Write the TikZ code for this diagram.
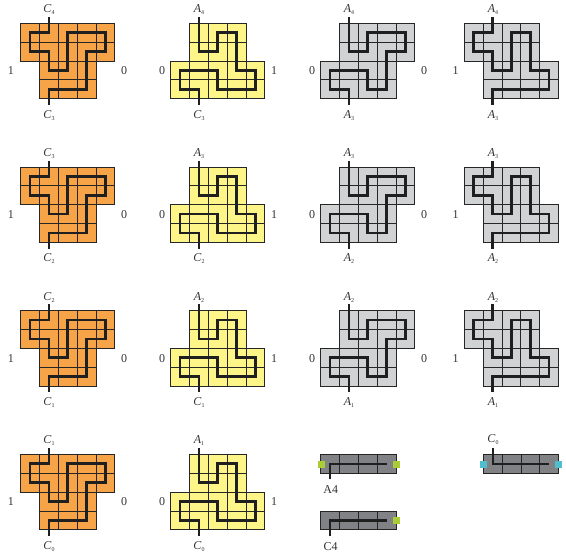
\documentclass[tikz,border=0pt]{standalone}
\usepackage{fontspec}
\setmainfont{Liberation Serif}
\usetikzlibrary{positioning}

\definecolor{tileorange}{RGB}{247,163,72}
\definecolor{tileyellow}{RGB}{253,245,135}
\definecolor{tilegray}{RGB}{208,210,211}
\definecolor{tiledark}{RGB}{128,130,133}
\definecolor{portgreen}{RGB}{170,205,55}
\definecolor{portcyan}{RGB}{80,190,205}

\tikzset{
  tile/.style={draw=black!85, line width=1pt},
  gridline/.style={draw=black!85, line width=0.9pt},
  wire/.style={draw=black!88, line width=2.7pt, line join=miter},
  lab/.style={inner sep=0pt, font=\fontsize{12}{14}\selectfont, text=black!80},
  port/.style={minimum size=7pt, inner sep=0pt},
  cellunit/.style={x=18.85pt, y=-18.85pt},
}

% one block of the T-shaped panels, #1 outline, #2 colour, #3 inner lines, #4 wire
\newcommand{\panelblock}[4]{
  \fill[#2] #1 -- cycle;
  \draw[gridline] #3;
  \draw[tile] #1 -- cycle;
  \draw[wire] #4;
}
\newcommand{\orangeblock}{\panelblock
  {(0,0) -- (5,0) -- (5,2) -- (4,2) -- (4,4) -- (1,4) -- (1,2) -- (0,2)}
  {tileorange}
  {(1,0) -- (1,4) (2,0) -- (2,4) (3,0) -- (3,4) (4,0) -- (4,2) (0,1) -- (5,1) (1,2) -- (4,2) (1,3) -- (4,3)}
  {(1.5,-.33) |- (.5,.5) |- (1.5,1.5) |- (2.5,2.5) |- (4.5,.5) |- (3.5,1.5) |- (1.5,3.5) -- (1.5,4.33)}}
\newcommand{\yellowblock}{\panelblock
  {(1,0) -- (4,0) -- (4,2) -- (5,2) -- (5,4) -- (0,4) -- (0,2) -- (1,2)}
  {tileyellow}
  {(1,0) -- (1,4) (2,0) -- (2,4) (3,0) -- (3,4) (4,2) -- (4,4) (1,1) -- (4,1) (1,2) -- (4,2) (0,3) -- (5,3)}
  {(1.5,-.33) |- (2.5,1.5) |- (3.5,.5) |- (4.5,2.5) |- (2.5,3.5) |- (.5,2.5) |- (1.5,3.5) -- (1.5,4.33)}}
\newcommand{\grayblock}{\panelblock
  {(1,0) -- (5,0) -- (5,2) -- (4,2) -- (4,4) -- (0,4) -- (0,2) -- (1,2)}
  {tilegray}
  {(1,2) -- (1,4) (2,0) -- (2,4) (3,0) -- (3,4) (4,0) -- (4,2) (1,1) -- (5,1) (1,2) -- (4,2) (0,3) -- (4,3)}
  {(1.5,-.33) |- (2.5,1.5) |- (4.5,.5) |- (3.5,1.5) |- (2.5,3.5) |- (.5,2.5) |- (1.5,3.5) -- (1.5,4.33)}}
\newcommand{\graymirror}{\panelblock
  {(0,0) -- (4,0) -- (4,2) -- (5,2) -- (5,4) -- (1,4) -- (1,2) -- (0,2)}
  {tilegray}
  {(1,0) -- (1,2) (2,0) -- (2,4) (3,0) -- (3,4) (4,2) -- (4,4) (0,1) -- (4,1) (1,2) -- (4,2) (1,3) -- (5,3)}
  {(1.5,-.33) |- (.5,.5) |- (1.5,1.5) |- (2.5,2.5) |- (3.5,.5) |- (4.5,2.5) |- (1.5,3.5) -- (1.5,4.33)}}
\newcommand{\darktile}{
  \fill[tiledark] (0,0) rectangle (4,1);
  \draw[gridline] (1,0) -- (1,1) (2,0) -- (2,1) (3,0) -- (3,1);
  \draw[tile] (0,0) rectangle (4,1);
}
\newcommand{\sublab}[2]{\textit{#1}\raisebox{-2pt}{\fontsize{6}{7}\selectfont #2}}

\begin{document}
\begin{tikzpicture}[x=1pt, y=-1pt]
\useasboundingbox (0,0) rectangle (566,558);

% panel rows
\foreach \rowtop/\up/\low in {23.3/4/3, 167/3/2, 310.7/2/1, 454.4/1/0} {
  \begin{scope}[shift={(20.7,\rowtop)}, cellunit]
    \orangeblock
  \end{scope}
  \begin{scope}[shift={(170.7,\rowtop)}, cellunit]
    \yellowblock
  \end{scope}
  \node[lab] (orangetop\up) at (49,\rowtop-13.5) {\sublab{C}{\up}};
  \node[lab] (orangelow\up) at (49,\rowtop+92) {\sublab{C}{\low}};
  \node[lab] (orangeleft\up) at (11,\rowtop+47.5) {1};
  \node[lab] (orangeright\up) at (124,\rowtop+47.5) {0};
  \node[lab] (yellowtop\up) at (199,\rowtop-13.5) {\sublab{A}{\up}};
  \node[lab] (yellowlow\up) at (199,\rowtop+92) {\sublab{C}{\low}};
  \node[lab] (yellowleft\up) at (162,\rowtop+47.5) {0};
  \node[lab] (yellowright\up) at (274,\rowtop+47.5) {1};
}

\foreach \rowtop/\up/\low in {23.3/4/3, 167/3/2, 310.7/2/1} {
  \begin{scope}[shift={(320.7,\rowtop)}, cellunit]
    \grayblock
  \end{scope}
  \begin{scope}[shift={(464.3,\rowtop)}, cellunit]
    \graymirror
  \end{scope}
  \node[lab] (graytop\up) at (349,\rowtop-13.5) {\sublab{A}{\up}};
  \node[lab] (graylow\up) at (349,\rowtop+92) {\sublab{A}{\low}};
  \node[lab] (grayleft\up) at (312,\rowtop+47.5) {0};
  \node[lab] (grayright\up) at (424,\rowtop+47.5) {0};
  \node[lab] (mirrortop\up) at (493,\rowtop-13.5) {\sublab{A}{\up}};
  \node[lab] (mirrorlow\up) at (493,\rowtop+92) {\sublab{A}{\low}};
  \node[lab] (mirrorleft\up) at (455.5,\rowtop+47.5) {1};
}

% dark tiles
\begin{scope}[shift={(320.7,454.4)}, cellunit]
  \darktile
  \draw[wire, line width=2.2pt] (.5,1.33) |- (3.5,.5);
\end{scope}
\begin{scope}[shift={(320.7,511)}, cellunit]
  \darktile
  \draw[wire, line width=2.2pt] (.5,1.33) |- (3.5,.5);
\end{scope}
\begin{scope}[shift={(483.3,454.4)}, cellunit]
  \darktile
  \draw[wire, line width=2.2pt] (.5,-.33) |- (3.5,.5);
\end{scope}
\node[port, fill=portgreen] (aleft) at (321.7,464) {};
\node[port, fill=portgreen] (aright) at (396.5,464) {};
\node[port, fill=portgreen] (cright) at (396.5,520.5) {};
\node[port, fill=portcyan] (zeroleft) at (483.5,464) {};
\node[port, fill=portcyan] (zeroright) at (558.5,464) {};
\node[lab] (afour) at (330.7,490) {A4};
\node[lab] (cfour) at (330.7,546.5) {C4};
\node[lab] (czero) at (493,439.5) {\sublab{C}{0}};
\end{tikzpicture}
\end{document}
